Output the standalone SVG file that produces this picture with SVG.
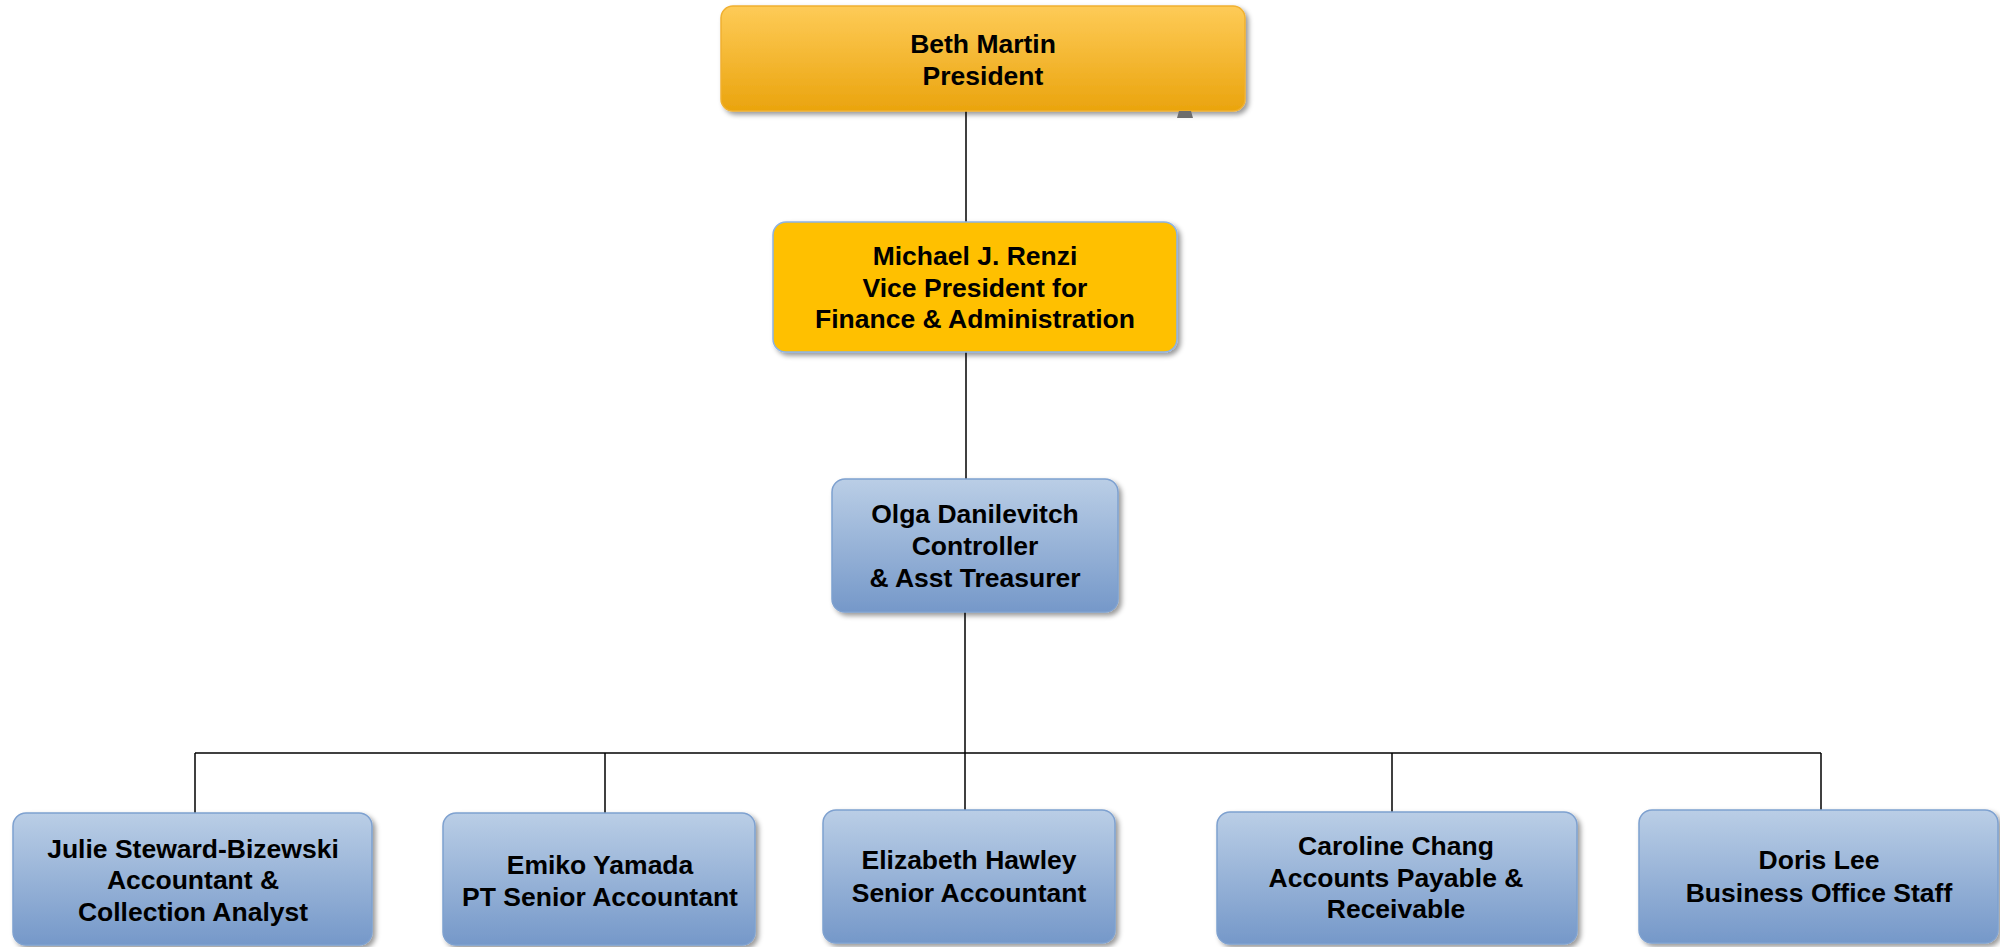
<svg xmlns="http://www.w3.org/2000/svg" width="2000" height="947" viewBox="0 0 2000 947">
<defs>
<linearGradient id="gOrange" x1="0" y1="0" x2="0" y2="1">
<stop offset="0" stop-color="#FECB57"/>
<stop offset="1" stop-color="#EAA40E"/>
</linearGradient>
<linearGradient id="gBlue" x1="0" y1="0" x2="0" y2="1">
<stop offset="0" stop-color="#BACEE6"/>
<stop offset="1" stop-color="#7598C9"/>
</linearGradient>
<filter id="sh" x="-10%" y="-10%" width="120%" height="130%">
<feDropShadow dx="3" dy="3" stdDeviation="2.5" flood-color="#000" flood-opacity="0.4"/>
</filter>
</defs>
<style>
.t{font-family:"Liberation Sans",Arial,sans-serif;font-weight:bold;font-size:26.5px;fill:#000;text-anchor:middle}
.bx{stroke-width:1.5;filter:url(#sh)}
.or{fill:url(#gOrange);stroke:#F0B030}
.vp{fill:#FFC000;stroke:#8DB3E2}
.bl{fill:url(#gBlue);stroke:#7EA1D0}
.c{stroke:#000;stroke-width:1.5;fill:none}
</style>
<rect width="2000" height="947" fill="#fff"/>
<g id="connectors">
<line class="c" x1="966" y1="111" x2="966" y2="222"/>
<line class="c" x1="966" y1="352" x2="966" y2="479"/>
<line class="c" x1="965" y1="612" x2="965" y2="810"/>
<line class="c" x1="195" y1="753" x2="1821" y2="753"/>
<line class="c" x1="195" y1="753" x2="195" y2="813"/>
<line class="c" x1="605" y1="753" x2="605" y2="813"/>
<line class="c" x1="1392" y1="753" x2="1392" y2="812"/>
<line class="c" x1="1821" y1="753" x2="1821" y2="810"/>
</g>
<g id="president">
<rect class="bx or" x="721" y="6" width="524" height="105" rx="12"/>
<polygon points="1179,111 1191,111 1193,118 1177,118" fill="#6D6D6D"/>
<text class="t" x="983" y="53">Beth Martin</text>
<text class="t" x="983" y="85">President</text>
</g>
<g id="vp">
<rect class="bx vp" x="773" y="222" width="404" height="130" rx="13"/>
<text class="t" x="975" y="265">Michael J. Renzi</text>
<text class="t" x="975" y="297">Vice President for</text>
<text class="t" x="975" y="328">Finance &amp; Administration</text>
</g>
<g id="controller">
<rect class="bx bl" x="832" y="479" width="286" height="133" rx="13"/>
<text class="t" x="975" y="523">Olga Danilevitch</text>
<text class="t" x="975" y="555">Controller</text>
<text class="t" x="975" y="587">&amp; Asst Treasurer</text>
</g>
<g id="julie">
<rect class="bx bl" x="13" y="813" width="359" height="132" rx="13"/>
<text class="t" x="193" y="858">Julie Steward-Bizewski</text>
<text class="t" x="193" y="889">Accountant &amp;</text>
<text class="t" x="193" y="921">Collection Analyst</text>
</g>
<g id="emiko">
<rect class="bx bl" x="443" y="813" width="312" height="132" rx="13"/>
<text class="t" x="600" y="874">Emiko Yamada</text>
<text class="t" x="600" y="906">PT Senior Accountant</text>
</g>
<g id="elizabeth">
<rect class="bx bl" x="823" y="810" width="292" height="133" rx="13"/>
<text class="t" x="969" y="869">Elizabeth Hawley</text>
<text class="t" x="969" y="902">Senior Accountant</text>
</g>
<g id="caroline">
<rect class="bx bl" x="1217" y="812" width="360" height="132" rx="13"/>
<text class="t" x="1396" y="855">Caroline Chang</text>
<text class="t" x="1396" y="887">Accounts Payable &amp;</text>
<text class="t" x="1396" y="918">Receivable</text>
</g>
<g id="doris">
<rect class="bx bl" x="1639" y="810" width="359" height="133" rx="13"/>
<text class="t" x="1819" y="869">Doris Lee</text>
<text class="t" x="1819" y="902">Business Office Staff</text>
</g>
</svg>
